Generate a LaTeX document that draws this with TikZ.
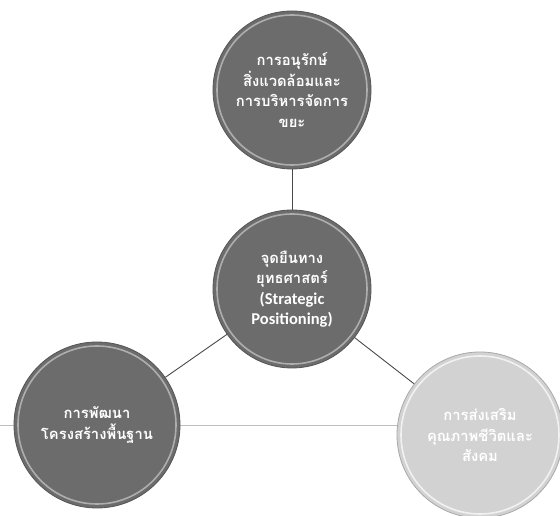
\documentclass[tikz,border=0pt]{standalone}
\usepackage{fontspec}
\newfontfamily\thaifont[Script=Thai]{Loma}
\newfontfamily\latinfont{Carlito}
\definecolor{darkdisc}{HTML}{6C6C6C}
\definecolor{lightdisc}{HTML}{D2D2D2}
\definecolor{linkgray}{HTML}{4A4A4A}
\definecolor{rimgray}{HTML}{555555}
\tikzset{
  disc/.style={circle, minimum size=158pt, inner sep=0pt, align=center,
    text=white, font=\thaifont\bfseries\fontsize{14.8}{20.5}\selectfont,
    draw=rimgray, line width=0.8pt, fill=#1},
  rim/.style={draw=white, draw opacity=0.45, line width=1.6pt},
  link/.style={draw=linkgray, line width=0.9pt},
  scanline/.style={draw=black!25, line width=0.6pt}
}
\newcommand{\latinbold}{\latinfont\bfseries\fontsize{16.5}{20.5}\selectfont}
\begin{document}
\begin{tikzpicture}[x=1pt,y=1pt]
\useasboundingbox (0,0) rectangle (560,516);
\clip (0,0) rectangle (560,516);
\fill[white] (0,0) rectangle (560,516);
% positions
\coordinate (pTop) at (292,426);
\coordinate (pMid) at (292,227);
\coordinate (pLeft) at (97,91);
\coordinate (pRight) at (480,81);
% scan artefact line
\coordinate (sL) at (0,91);
\coordinate (sR) at (560,91);
\draw[scanline] (sL) -- (sR);
% discs
\node[disc=darkdisc] (top) at (pTop)
  {การอนุรักษ์\\สิ่งแวดล้อมและ\\การบริหารจัดการ\\ขยะ};
\node[disc=darkdisc] (mid) at (pMid)
  {จุดยืนทาง\\ยุทธศาสตร์\\{\latinbold (Strategic}\\{\latinbold Positioning)}};
\node[disc=darkdisc, minimum size=166pt] (left) at (pLeft)
  {การพัฒนา\\โครงสร้างพื้นฐาน};
\node[disc=lightdisc, draw=lightdisc!80!black, minimum size=166pt] (right) at (pRight)
  {การส่งเสริม\\คุณภาพชีวิตและ\\สังคม};
% inner rims
\draw[rim] (pTop) circle (75pt);
\draw[rim] (pMid) circle (75pt);
\draw[rim] (pLeft) circle (79pt);
\draw[rim, draw opacity=0.7] (pRight) circle (79pt);
% connectors
\draw[link] (top) -- (mid);
\draw[link] (mid) -- (left);
\draw[link] (mid) -- (right);
\end{tikzpicture}
\end{document}
